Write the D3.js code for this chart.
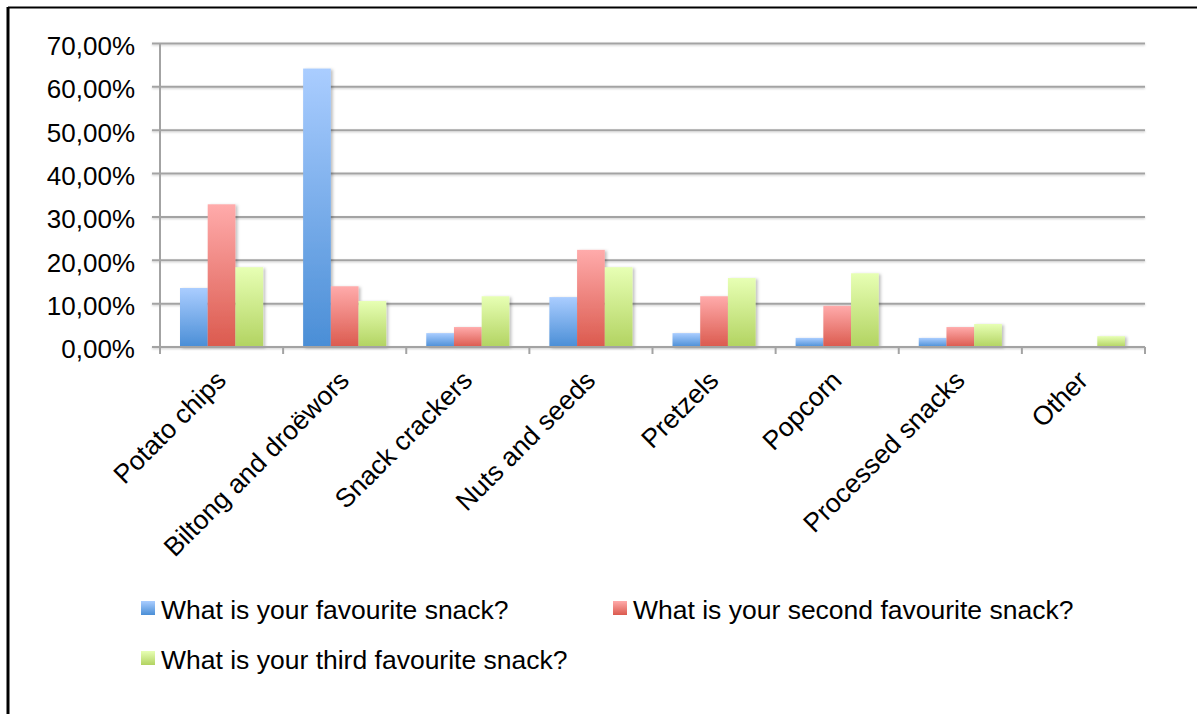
<!DOCTYPE html>
<html><head><meta charset="utf-8">
<script src="https://cdn.jsdelivr.net/npm/d3@7"></script>
<style>
body{margin:0;background:#fff;}
text{font-family:"Liberation Sans",Arial,sans-serif;fill:#000;}
</style></head><body>
<svg id="chart" width="1197" height="714"></svg>
<script>
const categories = ["Potato chips","Biltong and droëwors","Snack crackers","Nuts and seeds","Pretzels","Popcorn","Processed snacks","Other"];
const seriesNames = ["What is your favourite snack?","What is your second favourite snack?","What is your third favourite snack?"];
const favourite = [13.6, 64.2, 3.2, 11.5, 3.2, 2.1, 2.1, 0];
const second = [32.9, 14.0, 4.6, 22.4, 11.7, 9.5, 4.6, 0];
const third = [18.4, 10.6, 11.7, 18.4, 15.9, 17.0, 5.3, 2.5];
const yTicks = [0,10,20,30,40,50,60,70];
const series = [favourite, second, third];
const gradColors = [["#aacdff","#4a8ed6"],["#ffabab","#db5a4e"],["#e7ffb4","#b2d361"]];

const svg = d3.select("#chart");
const defs = svg.append("defs");
gradColors.forEach((c,i)=>{
  const g = defs.append("linearGradient").attr("id","g"+i).attr("x1",0).attr("y1",0).attr("x2",0).attr("y2",1);
  g.append("stop").attr("offset","0%").attr("stop-color",c[0]);
  g.append("stop").attr("offset","100%").attr("stop-color",c[1]);
});
const f = defs.append("filter").attr("id","sh").attr("x","-20%").attr("y","-20%").attr("width","150%").attr("height","140%");
f.append("feDropShadow").attr("dx",2).attr("dy",1).attr("stdDeviation",1.5).attr("flood-color","#000").attr("flood-opacity",0.25);
const fl = defs.append("filter").attr("id","shl").attr("x","-5%").attr("y","-100%").attr("width","110%").attr("height","400%");
fl.append("feDropShadow").attr("dx",0).attr("dy",1).attr("stdDeviation",0.8).attr("flood-color","#000").attr("flood-opacity",0.2);

// frame
svg.append("line").attr("x1",8).attr("x2",1197).attr("y1",7.5).attr("y2",7.5).attr("stroke","#000").attr("stroke-width",2);
svg.append("line").attr("x1",8).attr("x2",8).attr("y1",7).attr("y2",714).attr("stroke","#000").attr("stroke-width",3);

const FS = 26.5;
const pLeft=160, pRight=1145, pTop=43.4, pBottom=347;
const x0 = d3.scaleBand().domain(categories).range([pLeft,pRight]).padding(0);
const x1 = d3.scaleBand().domain([0,1,2]).range([20, x0.bandwidth()-20]).padding(0);
const y = d3.scaleLinear().domain([0,70]).range([pBottom,pTop]);

// gridlines
const grid = svg.append("g").attr("filter","url(#shl)");
grid.selectAll("line").data(yTicks).join("line")
  .attr("x1",pLeft-8).attr("x2",pRight).attr("y1",d=>y(d)).attr("y2",d=>y(d))
  .attr("stroke","#a3a3a3").attr("stroke-width",2);

// y axis
const yAxis = d3.axisLeft(y).tickValues(yTicks).tickSize(0).tickPadding(25)
  .tickFormat(d=>d3.format(".2f")(d).replace(".",",")+"%");
const ya = svg.append("g").attr("transform",`translate(${pLeft},0)`).call(yAxis);
ya.select(".domain").remove();
ya.selectAll("text").attr("font-size",26).attr("dy","0.42em").attr("fill","#000").style("font-family","'Liberation Sans',Arial,sans-serif");
svg.append("line").attr("x1",pLeft).attr("x2",pLeft).attr("y1",pTop).attr("y2",pBottom+6).attr("stroke","#a3a3a3").attr("stroke-width",2);

// bars
const groups = svg.append("g").selectAll("g").data(categories).join("g")
  .attr("transform",d=>`translate(${x0(d)},0)`);
groups.selectAll("rect").data((d,ci)=>series.map((s,si)=>({si,v:s[ci]}))).join("rect")
  .filter(d=>d.v>0)
  .attr("x",d=>x1(d.si)).attr("width",x1.bandwidth())
  .attr("y",d=>y(d.v)).attr("height",d=>y(0)-y(d.v))
  .attr("fill",d=>`url(#g${d.si})`).attr("filter","url(#sh)");

// x axis
svg.append("line").attr("x1",pLeft-8).attr("x2",pRight).attr("y1",pBottom).attr("y2",pBottom).attr("stroke","#a3a3a3").attr("stroke-width",2);
const bounds = categories.map(c=>x0(c)).concat([pRight]);
svg.append("g").selectAll("line").data(bounds).join("line")
  .attr("x1",d=>d).attr("x2",d=>d).attr("y1",pBottom).attr("y2",pBottom+7)
  .attr("stroke","#a3a3a3").attr("stroke-width",2);
svg.append("g").selectAll("text").data(categories).join("text")
  .attr("transform",d=>`translate(${x0(d)+x0.bandwidth()/2+6},${pBottom+35}) rotate(-45)`)
  .attr("text-anchor","end").attr("font-size",FS).text(d=>d);

// legend
const legPos = [[141,601],[613,601],[141,651]];
const leg = svg.append("g").selectAll("g").data(seriesNames).join("g")
  .attr("transform",(d,i)=>`translate(${legPos[i][0]},${legPos[i][1]})`);
leg.append("rect").attr("width",14).attr("height",14).attr("fill",(d,i)=>`url(#g${i})`);
leg.append("text").attr("x",20).attr("y",18).attr("font-size",FS).text(d=>d);
</script></body></html>
